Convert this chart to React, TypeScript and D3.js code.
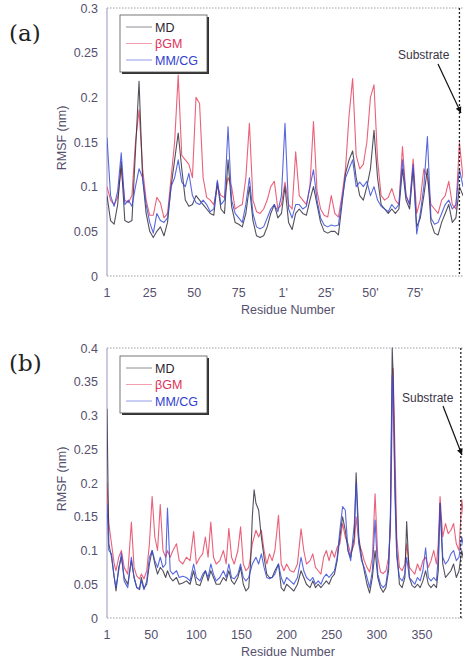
import React from "react";
import * as d3 from "d3";

// ---------- Panel (a) data ----------
const resA = d3.range(1, 204, 2);
const mdA = [0.09,0.062,0.058,0.08,0.128,0.062,0.06,0.062,0.14,0.218,0.11,0.07,0.05,0.043,0.05,0.055,0.045,0.06,0.1,0.13,0.16,0.12,0.085,0.078,0.08,0.09,0.085,0.08,0.075,0.07,0.068,0.105,0.075,0.07,0.13,0.078,0.06,0.058,0.055,0.07,0.1,0.062,0.045,0.043,0.045,0.055,0.07,0.08,0.065,0.07,0.1,0.06,0.052,0.07,0.075,0.07,0.068,0.085,0.1,0.08,0.06,0.05,0.048,0.05,0.05,0.046,0.08,0.115,0.13,0.14,0.11,0.09,0.085,0.1,0.12,0.163,0.11,0.08,0.075,0.07,0.075,0.07,0.075,0.12,0.085,0.075,0.12,0.055,0.065,0.09,0.12,0.06,0.048,0.046,0.06,0.07,0.08,0.06,0.065,0.1,0.09,0.1];
const bgmA = [0.1,0.085,0.08,0.088,0.12,0.085,0.082,0.09,0.15,0.186,0.12,0.085,0.068,0.068,0.088,0.082,0.065,0.07,0.11,0.15,0.225,0.135,0.13,0.125,0.11,0.2,0.193,0.11,0.088,0.085,0.08,0.1,0.09,0.088,0.11,0.1,0.075,0.078,0.08,0.11,0.171,0.085,0.072,0.07,0.075,0.085,0.1,0.106,0.075,0.08,0.105,0.08,0.075,0.139,0.09,0.085,0.08,0.1,0.173,0.095,0.075,0.068,0.066,0.09,0.07,0.066,0.09,0.12,0.18,0.221,0.135,0.12,0.125,0.15,0.2,0.214,0.13,0.09,0.085,0.088,0.098,0.085,0.08,0.145,0.09,0.08,0.131,0.07,0.085,0.12,0.11,0.08,0.075,0.07,0.085,0.09,0.106,0.08,0.075,0.149,0.11,0.13];
const mmcgA = [0.155,0.09,0.078,0.095,0.138,0.08,0.085,0.078,0.1,0.12,0.11,0.08,0.06,0.048,0.07,0.062,0.06,0.065,0.1,0.11,0.13,0.105,0.1,0.115,0.09,0.082,0.08,0.085,0.08,0.072,0.075,0.107,0.08,0.085,0.167,0.085,0.07,0.065,0.06,0.08,0.11,0.07,0.055,0.053,0.055,0.065,0.075,0.08,0.072,0.09,0.171,0.075,0.065,0.08,0.08,0.075,0.078,0.1,0.119,0.085,0.065,0.057,0.055,0.057,0.056,0.057,0.085,0.11,0.12,0.13,0.1,0.105,0.1,0.106,0.09,0.1,0.085,0.078,0.075,0.072,0.08,0.075,0.08,0.13,0.09,0.08,0.125,0.047,0.07,0.1,0.156,0.065,0.058,0.06,0.07,0.08,0.085,0.075,0.08,0.12,0.1,0.11];
const xTicksA = [1, 25, 50, 75, 100, 124, 149, 174];
const xTickLabelsA = ["1", "25", "50", "75", "1'", "25'", "50'", "75'"];
const yTicksA = [0, 0.05, 0.1, 0.15, 0.2, 0.25, 0.3];
const yTickLabelsA = ["0", "0.05", "0.1", "0.15", "0.2", "0.25", "0.3"];

// ---------- Panel (b) data ----------
const resB = [1,3,6,9,11,14,17,20,24,28,31,34,37,39,42,45,48,51,54,57,60,63,66,68,71,74,78,81,85,89,93,97,100,104,107,110,113,116,119,122,126,130,133,136,139,142,146,149,152,155,158,160,162,164,166,169,172,175,178,181,184,187,191,194,197,200,204,208,212,216,219,222,226,229,232,235,238,241,244,247,250,253,256,259,262,265,268,271,275,277,280,283,286,289,292,295,298,301,304,307,310,313,315,317,318,320,322,325,328,331,333,336,339,342,345,348,351,354,357,360,363,366,368,370,373,376,379,382,385,388,391,394,397,400];
const mdB = [0.31,0.11,0.09,0.06,0.04,0.075,0.09,0.06,0.05,0.085,0.06,0.045,0.042,0.06,0.044,0.05,0.08,0.1,0.08,0.065,0.075,0.07,0.06,0.07,0.06,0.055,0.06,0.05,0.052,0.055,0.05,0.07,0.05,0.048,0.06,0.07,0.055,0.07,0.06,0.05,0.05,0.06,0.055,0.07,0.055,0.05,0.06,0.075,0.05,0.04,0.045,0.08,0.15,0.19,0.17,0.16,0.12,0.09,0.065,0.06,0.06,0.07,0.08,0.045,0.04,0.05,0.045,0.04,0.05,0.07,0.06,0.05,0.045,0.055,0.045,0.05,0.045,0.05,0.055,0.05,0.06,0.065,0.085,0.12,0.15,0.13,0.1,0.09,0.12,0.215,0.12,0.09,0.07,0.05,0.037,0.06,0.1,0.06,0.045,0.038,0.045,0.07,0.15,0.4,0.36,0.2,0.1,0.05,0.045,0.06,0.143,0.06,0.048,0.045,0.05,0.045,0.055,0.07,0.05,0.045,0.05,0.045,0.07,0.17,0.08,0.06,0.065,0.07,0.08,0.06,0.07,0.1,0.08,0.07];
const bgmB = [0.2,0.14,0.11,0.08,0.07,0.09,0.1,0.075,0.065,0.142,0.075,0.062,0.058,0.065,0.058,0.07,0.11,0.18,0.12,0.1,0.168,0.1,0.09,0.1,0.09,0.1,0.11,0.085,0.08,0.09,0.085,0.128,0.08,0.09,0.095,0.12,0.09,0.142,0.09,0.08,0.085,0.1,0.08,0.133,0.09,0.08,0.1,0.135,0.08,0.07,0.075,0.09,0.11,0.12,0.13,0.12,0.13,0.1,0.08,0.095,0.085,0.1,0.152,0.08,0.07,0.08,0.07,0.068,0.08,0.132,0.1,0.08,0.085,0.095,0.075,0.07,0.065,0.09,0.1,0.085,0.1,0.09,0.105,0.11,0.14,0.12,0.11,0.095,0.11,0.15,0.11,0.1,0.085,0.075,0.068,0.09,0.184,0.09,0.068,0.066,0.07,0.09,0.13,0.3,0.37,0.25,0.12,0.075,0.07,0.08,0.11,0.075,0.07,0.065,0.08,0.07,0.085,0.09,0.075,0.085,0.1,0.08,0.11,0.18,0.12,0.14,0.125,0.13,0.14,0.11,0.1,0.175,0.14,0.12];
const mmcgB = [0.17,0.1,0.095,0.06,0.046,0.07,0.096,0.055,0.045,0.09,0.06,0.045,0.044,0.055,0.042,0.055,0.09,0.1,0.085,0.075,0.09,0.075,0.08,0.163,0.07,0.065,0.07,0.06,0.062,0.06,0.055,0.08,0.06,0.055,0.065,0.07,0.06,0.08,0.065,0.055,0.06,0.07,0.06,0.08,0.06,0.058,0.065,0.08,0.06,0.055,0.06,0.07,0.08,0.085,0.09,0.08,0.095,0.075,0.06,0.058,0.06,0.065,0.08,0.06,0.05,0.06,0.055,0.05,0.06,0.09,0.07,0.06,0.055,0.06,0.05,0.055,0.05,0.06,0.065,0.06,0.065,0.07,0.09,0.13,0.165,0.16,0.1,0.085,0.14,0.2,0.11,0.085,0.075,0.06,0.045,0.07,0.145,0.065,0.05,0.045,0.05,0.08,0.15,0.36,0.34,0.18,0.09,0.06,0.055,0.065,0.09,0.06,0.055,0.05,0.06,0.055,0.07,0.104,0.06,0.055,0.06,0.055,0.09,0.17,0.09,0.08,0.085,0.095,0.1,0.085,0.09,0.12,0.1,0.09];
const xTicksB = [1, 50, 100, 150, 200, 250, 300, 350];
const xTickLabelsB = ["1", "50", "100", "150", "200", "250", "300", "350"];
const yTicksB = [0, 0.05, 0.1, 0.15, 0.2, 0.25, 0.3, 0.35, 0.4];
const yTickLabelsB = ["0", "0.05", "0.1", "0.15", "0.2", "0.25", "0.3", "0.35", "0.4"];

const seriesNames = ["MD", "\u03B2GM", "MM/CG"];

const COLORS = { md: "#35303f", bgm: "#e8506a", mmcg: "#3a4ed8" };
const TEXTC = "#55506e";
const FONT = "Arial, 'Liberation Sans', sans-serif";

type PanelProps = {
  id: string;
  label: string;
  top: number;
  bottom: number;
  xDomain: [number, number];
  xRangeEnd: number;
  yMax: number;
  res: number[];
  md: number[];
  bgm: number[];
  mmcg: number[];
  xTicks: number[];
  xTickLabels: string[];
  yTicks: number[];
  yTickLabels: string[];
  substrateRes: number;
  labelY: number;
  legendY: number;
  subText: [number, number];
  arrow: [number, number, number, number];
  xTitleY: number;
  yTitleY: number;
};

function Panel(p: PanelProps) {
  const left = 107;
  const x = d3.scaleLinear().domain(p.xDomain).range([left, p.xRangeEnd]);
  const y = d3.scaleLinear().domain([0, p.yMax]).range([p.bottom, p.top]);
  const mk = (vals: number[]) =>
    d3.line<number>().x((_, i) => x(p.res[i])).y((v) => y(v))(vals) || "";
  const sx = x(p.substrateRes);
  const [ax1, ay1, ax2, ay2] = p.arrow;
  const ang = Math.atan2(ay2 - ay1, ax2 - ax1);
  const ah = 6, aw = 3;
  const head = [
    [ax2, ay2],
    [ax2 - ah * Math.cos(ang) + aw * Math.sin(ang), ay2 - ah * Math.sin(ang) - aw * Math.cos(ang)],
    [ax2 - ah * Math.cos(ang) - aw * Math.sin(ang), ay2 - ah * Math.sin(ang) + aw * Math.cos(ang)],
  ].map((q) => q.join(",")).join(" ");
  const lx = 120, lw = 87, lh = 57;
  const colors = [COLORS.md, COLORS.bgm, COLORS.mmcg];
  const textColors = ["#2a2530", "#e03058", "#3040d0"];
  return (
    <g>
      <defs>
        <clipPath id={"clip" + p.id}>
          <rect x={left} y={p.top - 1} width={463 - left} height={p.bottom - p.top + 1} />
        </clipPath>
      </defs>
      <text x={9} y={p.labelY} fontFamily="'DejaVu Serif', 'Liberation Serif', serif" fontSize={23} fill="#222">
        {p.label}
      </text>
      <line x1={left} x2={463} y1={p.top} y2={p.top} stroke="#8a8290" strokeWidth={0.8} strokeDasharray="1.5,1.5" />
      <line x1={left} x2={463} y1={p.bottom} y2={p.bottom} stroke="#8a8290" strokeWidth={0.8} strokeDasharray="1.5,1.5" />
      <line x1={left} x2={left} y1={p.top} y2={p.bottom} stroke="#9a95c0" strokeWidth={1} />
      {p.yTicks.map((t, i) => (
        <text key={"y" + i} x={98} y={y(t) + 4.5} textAnchor="end" fontFamily={FONT} fontSize={12.5} fill={TEXTC}>
          {p.yTickLabels[i]}
        </text>
      ))}
      {p.xTicks.map((t, i) => (
        <text key={"x" + i} x={x(t)} y={p.bottom + 21} textAnchor="middle" fontFamily={FONT} fontSize={12.5} fill={TEXTC}>
          {p.xTickLabels[i]}
        </text>
      ))}
      <text x={288} y={p.xTitleY} textAnchor="middle" fontFamily={FONT} fontSize={12.5} fill={TEXTC}>
        Residue Number
      </text>
      <text transform={`translate(66,${p.yTitleY}) rotate(-90)`} textAnchor="middle" fontFamily={FONT} fontSize={12.5} fill={TEXTC}>
        RMSF (nm)
      </text>
      <g clipPath={`url(#clip${p.id})`} fill="none" strokeWidth={1.1} strokeLinejoin="round">
        <path d={mk(p.bgm)} stroke={COLORS.bgm} opacity={0.9} />
        <path d={mk(p.md)} stroke={COLORS.md} opacity={0.85} />
        <path d={mk(p.mmcg)} stroke={COLORS.mmcg} opacity={0.85} />
      </g>
      <line x1={sx} x2={sx} y1={p.top} y2={p.bottom} stroke="#222" strokeWidth={1.3} strokeDasharray="2,2" />
      <text x={p.subText[0]} y={p.subText[1]} fontFamily={FONT} fontSize={12} fill="#3a3545">
        Substrate
      </text>
      <line x1={ax1} y1={ay1} x2={ax2} y2={ay2} stroke="#111" strokeWidth={1.2} />
      <polygon points={head} fill="#111" />
      <rect x={lx + 2} y={p.legendY + 2} width={lw} height={lh} fill="#333" />
      <rect x={lx} y={p.legendY} width={lw} height={lh} fill="#fff" stroke="#555" strokeWidth={0.8} />
      {seriesNames.map((n, i) => {
        const yy = p.legendY + 12 + i * 16.5;
        return (
          <g key={n}>
            <line x1={lx + 6} x2={lx + 32} y1={yy} y2={yy} stroke={colors[i]} strokeWidth={1} opacity={0.55} />
            <text x={lx + 35} y={yy + 4.5} fontFamily={FONT} fontSize={12.5} fill={textColors[i]}>
              {n}
            </text>
          </g>
        );
      })}
    </g>
  );
}

export default function App() {
  return (
    <svg width={463} height={666} style={{ position: "absolute", left: 0, top: 0, background: "#fff" }}>
      <rect width={463} height={666} fill="#fff" />
      <Panel
        id="a"
        label="(a)"
        top={8}
        bottom={276}
        xDomain={[1, 203]}
        xRangeEnd={107 + 202 * 1.78}
        yMax={0.3}
        res={resA}
        md={mdA}
        bgm={bgmA}
        mmcg={mmcgA}
        xTicks={xTicksA}
        xTickLabels={xTickLabelsA}
        yTicks={yTicksA}
        yTickLabels={yTickLabelsA}
        substrateRes={199}
        labelY={41}
        legendY={15}
        subText={[398, 59]}
        arrow={[438, 64, 461, 113]}
        xTitleY={314}
        yTitleY={138}
      />
      <Panel
        id="b"
        label="(b)"
        top={348}
        bottom={618}
        xDomain={[1, 400]}
        xRangeEnd={107 + 399 * 0.9026}
        yMax={0.4}
        res={resB}
        md={mdB}
        bgm={bgmB}
        mmcg={mmcgB}
        xTicks={xTicksB}
        xTickLabels={xTickLabelsB}
        yTicks={yTicksB}
        yTickLabels={yTickLabelsB}
        substrateRes={393}
        labelY={371}
        legendY={356}
        subText={[402, 402]}
        arrow={[443, 406, 462, 455]}
        xTitleY={656}
        yTitleY={479}
      />
    </svg>
  );
}
